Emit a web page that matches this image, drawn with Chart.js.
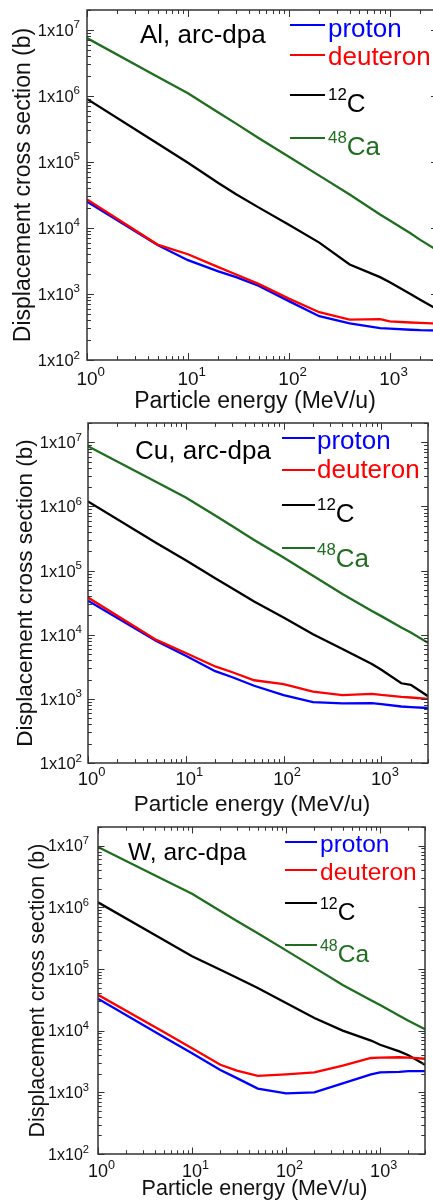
<!DOCTYPE html>
<html><head><meta charset="utf-8">
<script src="https://cdn.jsdelivr.net/npm/chart.js@4.4.0/dist/chart.umd.min.js"></script>
<style>
html,body{margin:0;padding:0;background:#fff;overflow:hidden;width:433px;height:1200px;position:relative;}
canvas{position:absolute;left:0;}
</style></head><body>
<canvas id="c1"></canvas><canvas id="c2"></canvas><canvas id="c3"></canvas>
<script>
// ---------- data ----------
const energy = [1, 5, 10, 20, 30, 50, 100, 200, 400, 800, 1000, 1600, 2000, 3000];

const alProton   = [2.5e4, 5.5e3, 3.25e3, 2.2e3, 1.8e3, 1.33e3, 780, 460, 360, 305, 298, 287, 283, 280];
const alDeuteron = [2.7e4, 5.6e3, 4.0e3, 2.55e3, 1.97e3, 1.42e3, 850, 530, 410, 415, 385, 370, 365, 355];
const alCarbon   = [9.0e5, 1.9e5, 9.7e4, 4.8e4, 3.25e4, 2.05e4, 1.12e4, 6.0e3, 2.8e3, 1.8e3, 1.5e3, 1.0e3, 820, 575];
const alCalcium  = [7.5e6, 1.95e6, 1.1e6, 5.6e5, 3.8e5, 2.3e5, 1.2e5, 6.2e4, 3.2e4, 1.6e4, 1.3e4, 8.3e3, 6.6e3, 4.5e3];

const cuProton   = [3.4e4, 8.0e3, 4.7e3, 2.7e3, 2.17e3, 1.6e3, 1.14e3, 890, 850, 860, 830, 760, 745, 720];
const cuDeuteron = [3.8e4, 8.3e3, 5.2e3, 3.2e3, 2.6e3, 1.95e3, 1.7e3, 1.3e3, 1.14e3, 1.2e3, 1.15e3, 1.07e3, 1.05e3, 1.0e3];
const cuCarbon   = [1.2e6, 2.7e5, 1.45e5, 7.6e4, 5.25e4, 3.3e4, 1.86e4, 1.02e4, 6.0e3, 3.5e3, 2.85e3, 1.75e3, 1.65e3, 1.1e3];
const cuCalcium  = [8.7e6, 2.4e6, 1.38e6, 7.2e5, 4.9e5, 3.0e5, 1.6e5, 8.3e4, 4.3e4, 2.35e4, 1.95e4, 1.3e4, 1.08e4, 7.5e3];

const wProton    = [3.3e4, 7.9e3, 4.3e3, 2.3e3, 1.7e3, 1.15e3, 960, 1.0e3, 1.4e3, 1.95e3, 2.1e3, 2.15e3, 2.2e3, 2.2e3];
const wDeuteron  = [3.8e4, 9.5e3, 5.2e3, 2.8e3, 2.25e3, 1.85e3, 1.95e3, 2.1e3, 2.7e3, 3.6e3, 3.65e3, 3.7e3, 3.65e3, 3.5e3];
const wCarbon    = [1.2e6, 2.95e5, 1.6e5, 9.7e4, 7.2e4, 4.9e4, 2.8e4, 1.6e4, 1.0e4, 6.9e3, 5.9e3, 4.6e3, 4.0e3, 2.8e3];
const wCalcium   = [9.5e6, 2.8e6, 1.65e6, 8.7e5, 6.0e5, 3.8e5, 2.0e5, 1.05e5, 5.5e4, 3.1e4, 2.6e4, 1.75e4, 1.45e4, 1.05e4];

const seriesLabels = ['proton', 'deuteron', '\u00b9\u00b2C', '\u2074\u2078Ca'];
const legendSup    = ['', '', '12', '48'];
const legendMain   = ['proton', 'deuteron', 'C', 'Ca'];
const panelTitles  = ['Al, arc-dpa', 'Cu, arc-dpa', 'W, arc-dpa'];
const xTickValues  = [1, 10, 100, 1000];
const xTickBase    = ['10', '10', '10', '10'];
const xTickExp     = ['0', '1', '2', '3'];
const yTickValues  = [1e2, 1e3, 1e4, 1e5, 1e6, 1e7];
const yTickBase    = ['1x10', '1x10', '1x10', '1x10', '1x10', '1x10'];
const yTickExp     = ['2', '3', '4', '5', '6', '7'];
const xAxisTitle = 'Particle energy (MeV/u)';
const yAxisTitle = 'Displacement cross section (b)';

// ---------- styles / layout ----------
const colors = ['#0000ff', '#ff0000', '#000000', '#1f6e1f'];
const drawOrder = [1, 0, 2, 3];
const FONT = '"Liberation Sans", Arial, Helvetica, sans-serif';

const panels = [
  { id: 'c1', top: 0, w: 445, h: 420, area: {l: 87, t: 10, r: 438, b: 360}, fs: 1,
    yTickFont: 16.5, yTickPad: 7, xTickFont: 19, xLabBase: 25,
    yTitleFont: 23, yTitleBase: 29.5, xTitleFont: 23, xTitleX: 255, xTitleBase: 408,
    series: [alProton, alDeuteron, alCarbon, alCalcium],
    titleX: 140, titleBase: 43, legX1: 290, legX2: 325, legTextX: 328,
    legLineY: [25, 55, 95, 138], legBase: [37, 65, 112, 155], legFont: 26 },
  { id: 'c2', top: 413, w: 433, h: 410, area: {l: 88, t: 10, r: 428, b: 350}, fs: 0.97,
    yTickFont: 16.5, yTickPad: 6, xTickFont: 18.5, xLabBase: 22,
    yTitleFont: 22.5, yTitleBase: 31.5, xTitleFont: 22.5, xTitleX: 252, xTitleBase: 397.5,
    series: [cuProton, cuDeuteron, cuCarbon, cuCalcium],
    titleX: 135, titleBase: 46, legX1: 282, legX2: 315, legTextX: 317,
    legLineY: [25, 57, 92, 135], legBase: [36, 65, 109, 154], legFont: 26 },
  { id: 'c3', top: 817, w: 433, h: 383, area: {l: 98, t: 10, r: 425, b: 337}, fs: 0.93,
    yTickFont: 16, yTickPad: 9, xTickFont: 18, xLabBase: 23,
    yTitleFont: 21.5, yTitleBase: 43.5, xTitleFont: 21.5, xTitleX: 254.5, xTitleBase: 378,
    series: [wProton, wDeuteron, wCarbon, wCalcium],
    titleX: 128, titleBase: 43, legX1: 285, legX2: 317, legTextX: 320,
    legLineY: [25, 53, 86, 128], legBase: [35, 63, 103, 145], legFont: 24.5 }
];

const decorPlugin = {
  id: 'decor',
  afterDraw(chart) {
    const p = chart.options.plugins.decor;
    const {ctx, chartArea: a, scales: {x, y}} = chart;
    ctx.save();
    // inward tick marks on all four sides
    ctx.strokeStyle = '#333';
    ctx.lineWidth = 1;
    const major = 7 * p.fs, minor = 4 * p.fs;
    ctx.beginPath();
    for (let e = Math.floor(Math.log10(x.min)); e <= Math.ceil(Math.log10(x.max)); e++) {
      for (let m = 1; m <= 9; m++) {
        const v = m * Math.pow(10, e);
        if (v < x.min || v > x.max) continue;
        const px = Math.round(x.getPixelForValue(v)) + 0.5;
        const L = m === 1 ? major : minor;
        ctx.moveTo(px, a.bottom); ctx.lineTo(px, a.bottom - L);
        ctx.moveTo(px, a.top); ctx.lineTo(px, a.top + L);
      }
    }
    for (let e = Math.floor(Math.log10(y.min)); e <= Math.ceil(Math.log10(y.max)); e++) {
      for (let m = 1; m <= 9; m++) {
        const v = m * Math.pow(10, e);
        if (v < y.min || v > y.max) continue;
        const py = Math.round(y.getPixelForValue(v)) + 0.5;
        const L = m === 1 ? major : minor;
        ctx.moveTo(a.left, py); ctx.lineTo(a.left + L, py);
        ctx.moveTo(a.right, py); ctx.lineTo(a.right - L, py);
      }
    }
    ctx.stroke();
    // frame
    ctx.lineWidth = 1.5;
    ctx.strokeStyle = '#333';
    ctx.strokeRect(a.left, a.top, a.right - a.left, a.bottom - a.top);

    ctx.textBaseline = 'alphabetic';
    ctx.fillStyle = '#111';
    // y tick labels (1x10^n), right-aligned to the axis
    yTickValues.forEach((v, i) => {
      const py = y.getPixelForValue(v);
      const F = p.yTickFont;
      ctx.font = F + 'px ' + FONT;
      const wb = ctx.measureText(yTickBase[i]).width;
      ctx.font = (F * 0.7) + 'px ' + FONT;
      const ws = ctx.measureText(yTickExp[i]).width;
      const x0 = a.left - p.yTickPad - ws - wb;
      const base = py + 0.36 * F;
      ctx.textAlign = 'left';
      ctx.font = F + 'px ' + FONT;
      ctx.fillText(yTickBase[i], x0, base);
      ctx.font = (F * 0.7) + 'px ' + FONT;
      ctx.fillText(yTickExp[i], x0 + wb, base - 0.45 * F);
    });
    // x tick labels (10^n), base centred on the tick
    xTickValues.forEach((v, i) => {
      const px = x.getPixelForValue(v);
      const F = p.xTickFont;
      ctx.font = F + 'px ' + FONT;
      const wb = ctx.measureText(xTickBase[i]).width;
      const base = a.bottom + p.xLabBase;
      ctx.textAlign = 'left';
      ctx.fillText(xTickBase[i], px - wb / 2, base);
      ctx.font = (F * 0.7) + 'px ' + FONT;
      ctx.fillText(xTickExp[i], px + wb / 2, base - 0.47 * F);
    });
    // axis titles
    ctx.textAlign = 'center';
    ctx.font = p.xTitleFont + 'px ' + FONT;
    ctx.fillText(xAxisTitle, p.xTitleX, p.xTitleBase);
    ctx.save();
    ctx.translate(p.yTitleBase, (a.top + a.bottom) / 2);
    ctx.rotate(-Math.PI / 2);
    ctx.font = p.yTitleFont + 'px ' + FONT;
    ctx.fillText(yAxisTitle, 0, 0);
    ctx.restore();

    // panel title
    ctx.fillStyle = '#000';
    ctx.textAlign = 'left';
    ctx.font = p.legFont + 'px ' + FONT;
    ctx.fillText(p.title, p.titleX, p.titleBase);
    // legend
    for (let i = 0; i < legendMain.length; i++) {
      ctx.strokeStyle = colors[i];
      ctx.lineWidth = 2;
      ctx.beginPath();
      ctx.moveTo(p.legX1, p.legLineY[i]);
      ctx.lineTo(p.legX2, p.legLineY[i]);
      ctx.stroke();
      ctx.fillStyle = colors[i];
      let tx = p.legTextX;
      if (legendSup[i]) {
        ctx.font = (p.legFont * 0.65) + 'px ' + FONT;
        ctx.fillText(legendSup[i], tx, p.legBase[i] - p.legFont * 0.46);
        tx += ctx.measureText(legendSup[i]).width;
      }
      ctx.font = p.legFont + 'px ' + FONT;
      ctx.fillText(legendMain[i], tx, p.legBase[i]);
    }
    ctx.restore();
  }
};

panels.forEach((p, pi) => {
  const cv = document.getElementById(p.id);
  cv.width = p.w; cv.height = p.h;
  cv.style.width = p.w + 'px'; cv.style.height = p.h + 'px';
  cv.style.top = p.top + 'px';
  const datasets = p.series.map((vals, i) => ({
    label: seriesLabels[i],
    data: energy.map((e, k) => ({x: e, y: vals[k]})),
    borderColor: colors[i],
    backgroundColor: colors[i],
    borderWidth: 2.3,
    pointRadius: 0,
    tension: 0,
    fill: false,
    order: drawOrder[i]
  }));
  new Chart(cv, {
    type: 'line',
    data: { datasets },
    options: {
      responsive: false,
      animation: false,
      devicePixelRatio: 1,
      layout: { padding: { left: 0, top: p.area.t, right: p.w - p.area.r, bottom: 0 } },
      plugins: {
        legend: { display: false },
        tooltip: { enabled: false },
        decor: Object.assign({ title: panelTitles[pi] }, p)
      },
      scales: {
        x: {
          type: 'logarithmic', position: 'bottom', min: 1, max: 3000,
          grid: { display: false, drawTicks: false },
          border: { display: false },
          ticks: { display: false },
          title: { display: false, text: xAxisTitle },
          afterFit: (s) => { s.height = p.h - p.area.b; }
        },
        y: {
          type: 'logarithmic', position: 'left', min: 100, max: 2e7,
          grid: { display: false, drawTicks: false },
          border: { display: false },
          ticks: { display: false },
          title: { display: false, text: yAxisTitle },
          afterFit: (s) => { s.width = p.area.l; }
        }
      }
    },
    plugins: [decorPlugin]
  });
});
</script>
</body></html>
